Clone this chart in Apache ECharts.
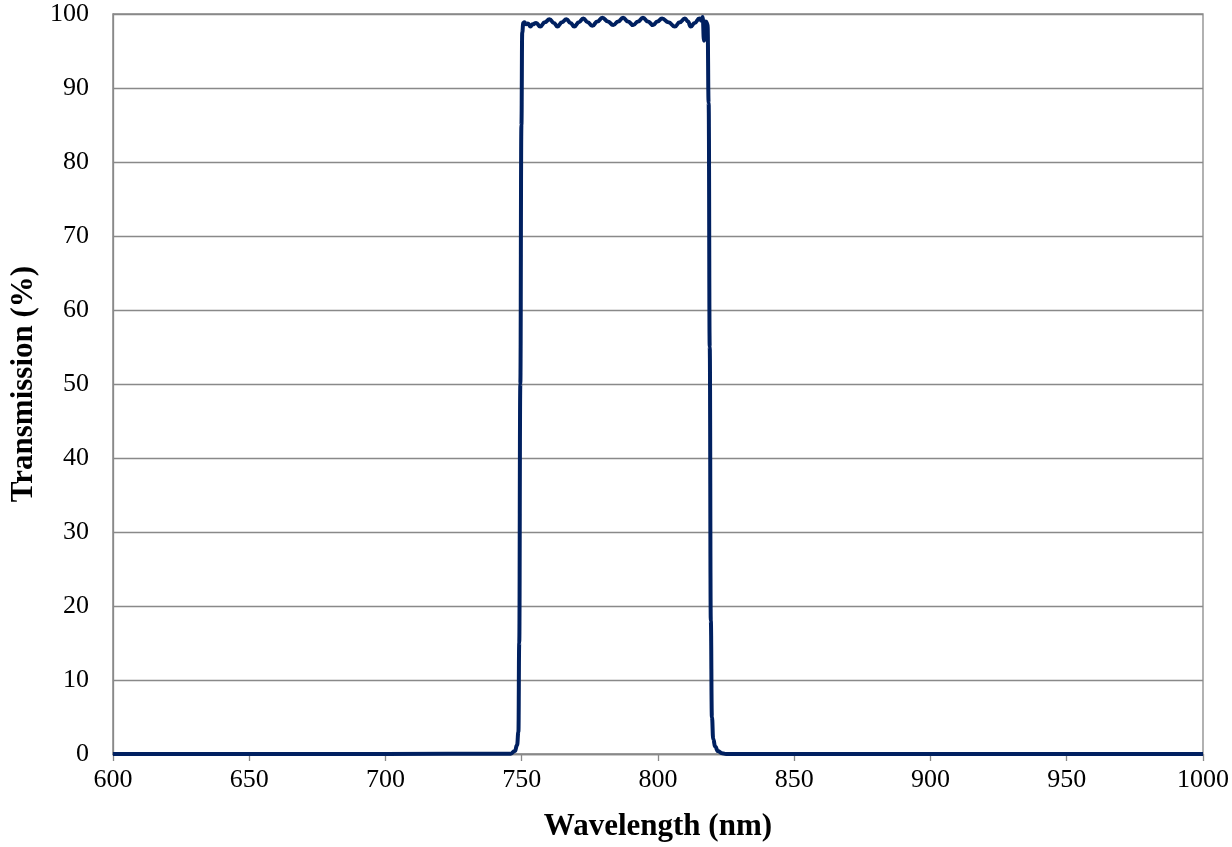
<!DOCTYPE html>
<html>
<head>
<meta charset="utf-8">
<script src="https://cdn.jsdelivr.net/npm/echarts@6/dist/echarts.min.js"></script>
<style>html,body{margin:0;padding:0;background:#fff}#c{width:1232px;height:847px}</style>
</head>
<body>
<div id="c"></div>
<script>
var wavelength = [600, 700, 746, 747.5, 748.3, 748.8, 749.1, 749.5, 749.9, 750.2, 750.6, 751.0, 751.6, 752.3, 753.2, 754.0, 755.3, 756.8, 758.5, 760.2, 761.8, 763.1, 764.8, 766.4, 767.9, 769.3, 771.0, 772.6, 774.2, 775.9, 777.8, 779.6, 781.6, 783.6, 785.4, 787.2, 789.0, 790.9, 792.7, 794.5, 796.3, 798.2, 799.8, 801.5, 803.8, 806.2, 808.0, 809.9, 811.0, 812.0, 813.5, 815.2, 816.0, 816.4, 816.9, 817.6, 818.2, 818.6, 819.0, 819.4, 819.8, 820.3, 821.0, 822.0, 823.5, 825, 900, 1000];
var transmission = [0, 0, 0.05, 0.4, 1.2, 3, 15, 50, 85, 97.5, 98.8, 98.9, 98.6, 98.7, 98.3, 98.6, 98.8, 98.3, 98.9, 99.3, 98.8, 98.3, 98.9, 99.3, 98.8, 98.3, 98.9, 99.4, 98.9, 98.4, 99.0, 99.5, 99.0, 98.5, 99.0, 99.5, 99.0, 98.5, 99.0, 99.5, 99.0, 98.5, 99.0, 99.4, 98.9, 98.3, 98.9, 99.4, 99.0, 98.3, 98.8, 99.4, 99.1, 99.6, 96.4, 99.0, 98.6, 88, 55, 18, 5, 2, 1, 0.4, 0.1, 0, 0, 0];
var xTicks = [600, 650, 700, 750, 800, 850, 900, 950, 1000];
var yTicks = [0, 10, 20, 30, 40, 50, 60, 70, 80, 90, 100];

var pts = wavelength.map(function (w, i) { return [w, transmission[i]]; });
var font = 'Liberation Serif';
var chart = echarts.init(document.getElementById('c'));
chart.setOption({
  animation: false,
  backgroundColor: '#fff',
  grid: { left: 107, right: 26, top: 14, bottom: 92, show: true, borderColor: '#898989', borderWidth: 1.3, containLabel: false },
  xAxis: {
    type: 'value', min: xTicks[0], max: xTicks[xTicks.length - 1], interval: 50,
    name: 'Wavelength (nm)', nameLocation: 'middle', nameGap: 57,
    nameTextStyle: { fontFamily: font, fontWeight: 'bold', fontSize: 31, color: '#000' },
    axisLine: { show: true, lineStyle: { color: '#898989', width: 1.3 } },
    axisTick: { show: true, length: 7, lineStyle: { color: '#898989', width: 1.3 } },
    axisLabel: { fontFamily: font, fontSize: 26, color: '#000', margin: 13, formatter: function (v) { return String(v); } },
    splitLine: { show: false }
  },
  yAxis: {
    type: 'value', min: yTicks[0], max: yTicks[yTicks.length - 1], interval: 10,
    name: 'Transmission (%)', nameLocation: 'middle', nameGap: 72,
    nameTextStyle: { fontFamily: font, fontWeight: 'bold', fontSize: 31, color: '#000' },
    axisLine: { show: true, lineStyle: { color: '#898989', width: 1.3 } },
    axisTick: { show: false },
    axisLabel: { fontFamily: font, fontSize: 26, color: '#000', margin: 24, formatter: function (v) { return String(v); } },
    splitLine: { show: true, lineStyle: { color: '#898989', width: 1.3 } }
  },
  series: [{
    type: 'line', data: pts, showSymbol: false, symbol: 'none', clip: false,
    smooth: 0.5, smoothMonotone: 'x',
    lineStyle: { color: '#002060', width: 4 }
  }]
});
</script>
</body>
</html>
